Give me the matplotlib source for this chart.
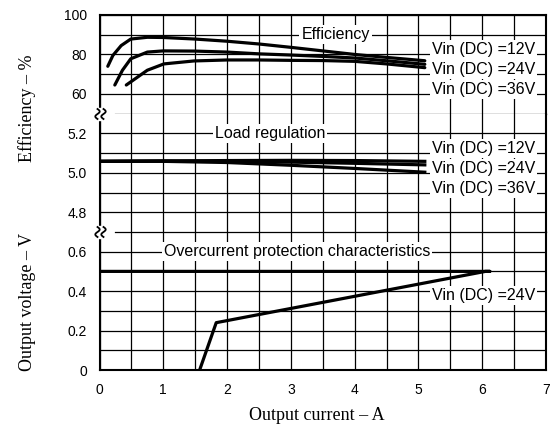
import matplotlib
matplotlib.use("Agg")
import matplotlib.pyplot as plt
import numpy as np

plt.rcParams['font.family'] = ['Liberation Sans', 'DejaVu Sans']

# efficiency curves (A, %)
eff12_x = [0.13, 0.21, 0.34, 0.49, 0.75, 1.0, 1.5, 2.0, 2.5, 3.0, 3.5, 4.0, 4.5, 5.1]
eff12_y = [74.0, 79.5, 84.5, 87.8, 88.7, 88.6, 87.8, 86.7, 85.3, 83.6, 81.8, 80.0, 78.5, 76.8]
eff24_x = [0.24, 0.36, 0.49, 0.75, 1.0, 1.5, 2.0, 2.5, 3.0, 3.5, 4.0, 4.5, 5.1]
eff24_y = [64.5, 72.0, 77.8, 81.2, 81.8, 81.7, 81.2, 80.3, 79.7, 79.0, 78.2, 76.8, 75.0]
eff36_x = [0.42, 0.75, 1.01, 1.48, 2.0, 2.5, 3.0, 3.5, 4.0, 4.5, 5.1]
eff36_y = [64.5, 72.0, 75.2, 76.7, 77.2, 77.2, 77.0, 76.9, 76.5, 75.2, 73.3]

# load regulation (A, V)
load_x = [0, 1.0, 2.0, 3.0, 4.0, 5.1]
load12 = [5.058, 5.060, 5.062, 5.063, 5.062, 5.058]
load24 = [5.058, 5.060, 5.058, 5.054, 5.048, 5.040]
load36 = [5.058, 5.058, 5.052, 5.038, 5.022, 5.003]

# overcurrent protection, Vin = 24V
oc_x = [0, 6.12, 6.05, 1.83, 1.57]
oc_y = [0.5, 0.5, 0.5, 0.24, 0.0]

vin_labels = ['Vin (DC) =12V', 'Vin (DC) =24V', 'Vin (DC) =36V']

W, H = 555, 429
fig = plt.figure(figsize=(W / 100, H / 100), dpi=100)
gs = fig.add_gridspec(3, 1, height_ratios=[5, 6, 7], hspace=0,
                      left=99.5 / W, right=546 / W, top=1 - 15 / H, bottom=1 - 370 / H)
ax_eff = fig.add_subplot(gs[0])
ax_load = fig.add_subplot(gs[1])
ax_oc = fig.add_subplot(gs[2])

for ax in (ax_eff, ax_load, ax_oc):
    ax.set_xlim(0, 7)
    ax.set_xticks(np.arange(0, 8, 1))
    ax.set_xticks(np.arange(0.5, 7, 1), minor=True)
    ax.grid(which='both', color='black', lw=0.9)
    ax.tick_params(which='both', length=0, pad=9, labelsize=10)
    ax.set_axisbelow(True)
    for s in ax.spines.values():
        s.set_linewidth(1.5)

ax_eff.set_ylim(50, 100)
ax_eff.set_yticks([60, 80, 100])
ax_eff.set_yticks([70, 90], minor=True)
ax_load.set_ylim(4.7, 5.3)
ax_load.set_yticks([4.8, 5.0, 5.2])
ax_load.set_yticks([4.9, 5.1], minor=True)
ax_oc.set_ylim(0, 0.7)
ax_oc.set_yticks([0, 0.2, 0.4, 0.6])
ax_oc.set_yticks([0.1, 0.3, 0.5], minor=True)
ax_load.yaxis.set_major_formatter(matplotlib.ticker.FormatStrFormatter('%.1f'))
ax_oc.yaxis.set_major_formatter(matplotlib.ticker.FormatStrFormatter('%g'))

ax_eff.tick_params(labelbottom=False)
ax_load.tick_params(labelbottom=False)

ax_eff.spines['bottom'].set_visible(False)
ax_load.spines['top'].set_visible(False)
ax_load.spines['bottom'].set_visible(False)
ax_oc.spines['top'].set_visible(False)

# break gridlines
ax_eff.axhline(50, xmin=0.035, color='black', lw=0.9, clip_on=False)
ax_oc.axhline(0.7, xmin=0.035, color='black', lw=0.9, clip_on=False)

lw = 2.3
ax_eff.plot(eff12_x, eff12_y, color='black', lw=lw, solid_capstyle='round')
ax_eff.plot(eff24_x, eff24_y, color='black', lw=lw, solid_capstyle='round')
ax_eff.plot(eff36_x, eff36_y, color='black', lw=lw, solid_capstyle='round')

ax_load.plot(load_x, load12, color='black', lw=lw)
ax_load.plot(load_x, load24, color='black', lw=lw)
ax_load.plot(load_x, load36, color='black', lw=lw)

ax_oc.plot(oc_x, oc_y, color='black', lw=lw)

fs = 11.5
box = dict(facecolor='white', edgecolor='none', pad=1.5)
ax_eff.text(3.7, 90, 'Efficiency', ha='center', va='center', fontsize=fs, bbox=box)
ax_load.text(2.67, 5.2, 'Load regulation', ha='center', va='center', fontsize=fs, bbox=box)
ax_oc.text(3.1, 0.6, 'Overcurrent protection characteristics', ha='center', va='center',
           fontsize=fs, bbox=box)

for lab, yv in zip(vin_labels, [80, 70, 60]):
    ax_eff.text(6.02, yv, lab, ha='center', va='baseline', fontsize=fs, bbox=box)
for lab, yv in zip(vin_labels, [5.1, 5.0, 4.9]):
    ax_load.text(6.02, yv, lab, ha='center', va='baseline', fontsize=fs, bbox=box)
ax_oc.text(6.02, 0.377, vin_labels[1], ha='center', va='center', fontsize=fs, bbox=box)

# axis break marks on the left spine
for py in (114, 232):
    y0 = 1 - py / H
    fig.patches.append(plt.Rectangle(((96) / W, y0 - 6 / H), 13 / W, 12 / H,
                                     transform=fig.transFigure, color='white', zorder=5))
    t = np.linspace(0, 1, 30)
    for xc in (97.5, 103.5):
        xs = (xc + 2.2 * np.sin(2 * np.pi * t)) / W
        ys = y0 + (5 - 10 * t) / H
        fig.lines.append(plt.Line2D(xs, ys, transform=fig.transFigure, color='black',
                                    lw=1.3, zorder=6))

fig.text(27 / W, 1 - 108 / H, 'Efficiency – %', rotation=90, ha='center', va='center',
         family='Liberation Serif', fontsize=13)
fig.text(27 / W, 1 - 302 / H, 'Output voltage – V', rotation=90, ha='center', va='center',
         family='Liberation Serif', fontsize=13)
fig.text(317 / W, 1 - 415 / H, 'Output current – A', ha='center', va='center',
         family='Liberation Serif', fontsize=13)

fig.savefig('out.png', dpi=100)
